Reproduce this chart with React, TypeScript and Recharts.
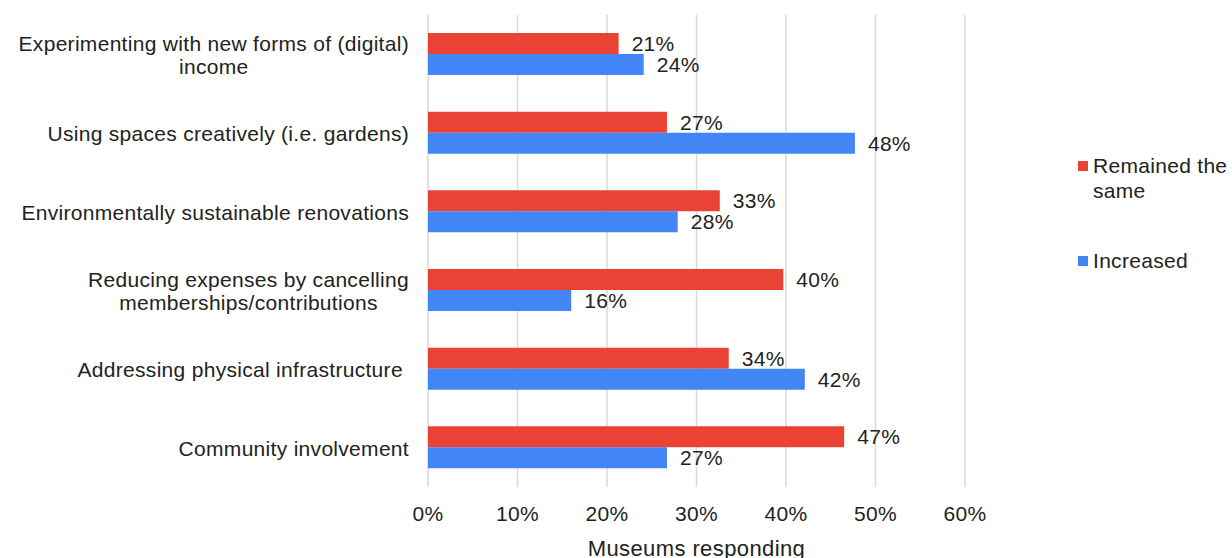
import { BarChart, Bar, XAxis, YAxis, CartesianGrid, LabelList } from 'recharts'

const FONT = "'Liberation Sans', Arial, sans-serif"
const TEXT = '#222222'
const RED = '#EA4335'
const BLUE = '#4285F4'

// categories, top to bottom (explicit line breaks as in the source)
const categories = [
  'Experimenting with new forms of (digital)\nincome',
  'Using spaces creatively (i.e. gardens)',
  'Environmentally sustainable renovations',
  'Reducing expenses by cancelling\nmemberships/contributions',
  'Addressing physical infrastructure ',
  'Community involvement',
]
const remainedSame = [21.3, 26.7, 32.6, 39.7, 33.6, 46.5]
const increased = [24.1, 47.7, 27.9, 16.0, 42.1, 26.7]
const xTicks = [0, 10, 20, 30, 40, 50, 60]

const data = categories.map((name, i) => ({
  name,
  remained: remainedSame[i],
  increased: increased[i],
}))

let ctx: CanvasRenderingContext2D | null = null
const measure = (s: string) => {
  if (!ctx) ctx = document.createElement('canvas').getContext('2d')
  if (!ctx) return s.length * 10
  ctx.font = `21px ${FONT}`
  return ctx.measureText(s).width + s.length * 0.3
}

const CategoryTick = ({ x, y, payload }: any) => {
  const lines = String(payload.value).split('\n')
  const right = x - 11
  const w = Math.max(...lines.map(measure))
  const cx = right - w / 2
  const lh = 23
  const y0 = y - ((lines.length - 1) * lh) / 2
  return (
    <text
      x={cx}
      y={y0}
      textAnchor="middle"
      dominantBaseline="central"
      fontSize={21}
      letterSpacing={0.3}
      fill={TEXT}
      fontFamily={FONT}
      style={{ whiteSpace: 'pre' }}
    >
      {lines.map((l, i) => (
        <tspan key={i} x={cx} y={y0 + i * lh}>
          {l}
        </tspan>
      ))}
    </text>
  )
}

const legendItems = [
  { label: 'Remained the same', color: RED },
  { label: 'Increased', color: BLUE },
]

const ChartLegend = () => (
  <div
    style={{
      position: 'absolute',
      left: 1078,
      top: 153,
      width: 154,
      fontFamily: FONT,
      fontSize: 21,
      letterSpacing: 0.3,
      color: TEXT,
    }}
  >
    {legendItems.map((it, i) => (
      <div key={it.label} style={{ display: 'flex', alignItems: 'flex-start', marginTop: i ? 45 : 0 }}>
        <span style={{ width: 10, height: 10, background: it.color, marginTop: 8, marginRight: 5, flex: 'none' }} />
        <span style={{ width: 140, lineHeight: '25px' }}>{it.label}</span>
      </div>
    ))}
  </div>
)

export default function App() {
  return (
    <div style={{ position: 'absolute', left: 0, top: 0, width: 1232, height: 558, background: '#fff' }}>
      <BarChart
        width={1232}
        height={558}
        data={data}
        layout="vertical"
        margin={{ top: 15, right: 267, bottom: 0, left: 0 }}
        barSize={21}
        barGap={0}
        style={{ fontFamily: FONT }}
      >
        <CartesianGrid horizontal={false} stroke="#d9d9d9" strokeWidth={1.5} />
        <XAxis
          type="number"
          domain={[0, 60]}
          ticks={xTicks}
          tickFormatter={(v: number) => `${v}%`}
          axisLine={false}
          tickLine={false}
          height={71}
          tickMargin={13}
          tick={{ fontSize: 21, fill: TEXT, letterSpacing: 0.3 }}
          label={{ value: 'Museums responding', position: 'insideBottom', offset: 2, fontSize: 22, fill: TEXT, letterSpacing: 0.4 }}
        />
        <YAxis type="category" dataKey="name" width={428} axisLine={false} tickLine={false} tick={<CategoryTick />} interval={0} />
        <Bar dataKey="remained" name="Remained the same" fill={RED} isAnimationActive={false}>
          <LabelList
            dataKey="remained"
            position="right"
            offset={13}
            formatter={(v: any) => `${Math.round(Number(v))}%`}
            style={{ fontSize: 21, fill: TEXT, letterSpacing: 0.3 }}
          />
        </Bar>
        <Bar dataKey="increased" name="Increased" fill={BLUE} isAnimationActive={false}>
          <LabelList
            dataKey="increased"
            position="right"
            offset={13}
            formatter={(v: any) => `${Math.round(Number(v))}%`}
            style={{ fontSize: 21, fill: TEXT, letterSpacing: 0.3 }}
          />
        </Bar>
      </BarChart>
      <ChartLegend />
    </div>
  )
}
